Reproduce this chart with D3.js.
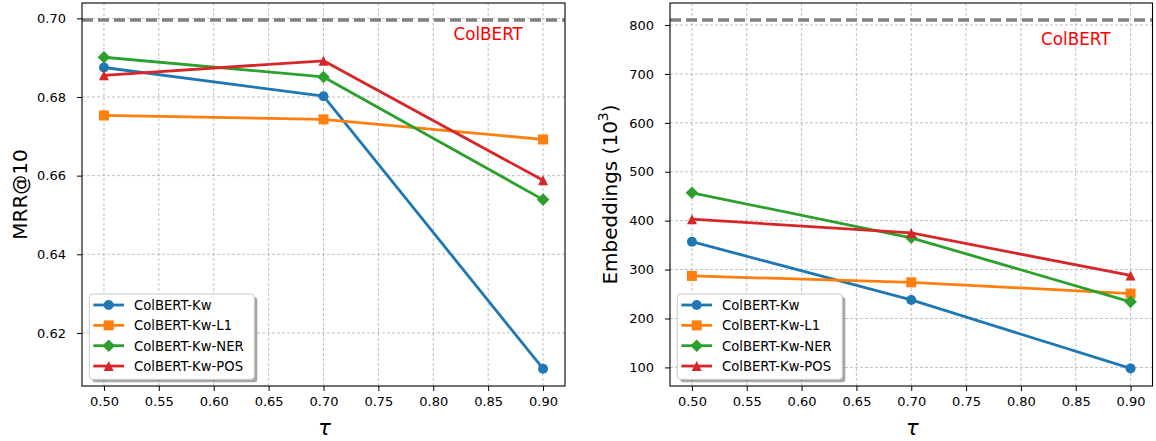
<!DOCTYPE html>
<html>
<head>
<meta charset="utf-8">
<script src="https://cdn.jsdelivr.net/npm/d3@7"></script>
<style>
  body { margin: 0; background: #fff; }
  text { font-family: "DejaVu Sans", sans-serif; }
</style>
</head>
<body>
<svg id="chart" width="1156" height="441"></svg>
<script>
/* данные */
const taus = [0.5, 0.7, 0.9];
const xTicks = [0.50, 0.55, 0.60, 0.65, 0.70, 0.75, 0.80, 0.85, 0.90];
const seriesNames = ["ColBERT-Kw", "ColBERT-Kw-L1", "ColBERT-Kw-NER", "ColBERT-Kw-POS"];
const colors = ["#1f77b4", "#ff7f0e", "#2ca02c", "#d62728"];
const markers = ["circle", "square", "diamond", "triangle"];

// MRR@10
const mrrKw  = [0.6875, 0.6802, 0.6109];
const mrrL1  = [0.6753, 0.6743, 0.6692];
const mrrNER = [0.6901, 0.6851, 0.6539];
const mrrPOS = [0.6855, 0.6892, 0.6588];
const mrrColbert = 0.6996;
const mrrTicks = [0.62, 0.64, 0.66, 0.68, 0.70];

// Embeddings (10^3)
const embKw  = [357, 238, 98];
const embL1  = [287, 274, 251];
const embNER = [457, 365, 234];
const embPOS = [403, 375, 288];
const embColbert = 810;
const embTicks = [100, 200, 300, 400, 500, 600, 700, 800];

const svg = d3.select("#chart");

function markerPath(type, k) {
    k = k || 1;
    if (type == "circle") return d3.symbol(d3.symbolCircle, Math.PI * 25 * k * k)();
    if (type == "square") { let h = 5 * k; return `M${-h},${-h}H${h}V${h}H${-h}Z`; }
    if (type == "diamond") { let d = 6.3 * k; return `M0,${-d}L${d},0L0,${d}L${-d},0Z`; }
    let h = 5 * k;
    return `M0,${-h}L${h},${h}L${-h},${h}Z`;
}

function drawPanel(opt) {
    let x = d3.scaleLinear().domain([0.48, 0.92]).range([opt.left, opt.right]);
    let y = d3.scaleLinear().domain(opt.yDomain).range([opt.bottom, opt.top]);
    let g = svg.append("g");

    // сетка
    g.selectAll(".vgrid").data(xTicks).enter().append("line")
        .attr("x1", d => x(d)).attr("x2", d => x(d))
        .attr("y1", opt.top).attr("y2", opt.bottom)
        .attr("stroke", "#b0b0b0").attr("stroke-width", 0.8)
        .attr("stroke-dasharray", "3,2");
    g.selectAll(".hgrid").data(opt.yTicks).enter().append("line")
        .attr("x1", opt.left).attr("x2", opt.right)
        .attr("y1", d => y(d)).attr("y2", d => y(d))
        .attr("stroke", "#b0b0b0").attr("stroke-width", 0.8)
        .attr("stroke-dasharray", "3,2");

    // ColBERT
    g.append("line")
        .attr("x1", opt.left).attr("x2", opt.right)
        .attr("y1", y(opt.colbert)).attr("y2", y(opt.colbert))
        .attr("stroke", "#808080").attr("stroke-width", 3.5)
        .attr("stroke-dasharray", "11,5");
    g.append("text")
        .attr("x", x(0.85)).attr("y", y(opt.labelY))
        .attr("text-anchor", "middle")
        .attr("fill", "#ff0000").attr("font-size", 16.8)
        .text("ColBERT");

    let line = d3.line().x((d, i) => x(taus[i])).y(d => y(d));
    opt.series.forEach(function(vals, s) {
        g.append("path").datum(vals)
            .attr("d", line)
            .attr("fill", "none").attr("stroke", colors[s])
            .attr("stroke-width", 2.8).attr("stroke-linejoin", "round");
        g.selectAll(".m" + s).data(vals).enter().append("path")
            .attr("d", markerPath(markers[s]))
            .attr("transform", (d, i) => `translate(${x(taus[i])},${y(d)})`)
            .attr("fill", colors[s]);
    });

    // оси
    let xAxis = g.append("g").attr("transform", `translate(0,${opt.bottom})`)
        .call(d3.axisBottom(x).tickValues(xTicks).tickFormat(d3.format(".2f")).tickSize(5).tickPadding(6));
    let yAxis = g.append("g").attr("transform", `translate(${opt.left},0)`)
        .call(d3.axisLeft(y).tickValues(opt.yTicks).tickFormat(opt.fmt).tickSize(5).tickPadding(11));
    [xAxis, yAxis].forEach(function(a) {
        a.select(".domain").remove();
        a.selectAll("text").attr("font-size", 13).attr("fill", "#000")
            .attr("font-family", "DejaVu Sans");
        a.selectAll("line").attr("stroke", "#000").attr("stroke-width", 1);
    });
    g.append("rect")
        .attr("x", opt.left).attr("y", opt.top)
        .attr("width", opt.right - opt.left).attr("height", opt.bottom - opt.top)
        .attr("fill", "none").attr("stroke", "#000").attr("stroke-width", 1.1);

    // подписи
    g.append("text")
        .attr("x", (opt.left + opt.right) / 2 + 1).attr("y", 435)
        .attr("text-anchor", "middle").attr("font-size", 21).attr("font-style", "italic")
        .text("τ");
    let yl = g.append("text")
        .attr("transform", `translate(${opt.ylabelX},${(opt.top + opt.bottom) / 2}) rotate(-90)`)
        .attr("text-anchor", "middle").attr("font-size", opt.ylabelSize);
    yl.append("tspan").text(opt.ylabel);
    if (opt.sup) {
        yl.append("tspan").attr("font-size", 14).attr("dy", -9).text(opt.sup);
        yl.append("tspan").attr("dy", 9).text(")");
    }

    // легенда
    let lx = opt.left + 7.3, ly = opt.bottom - 6.7 - 85.3;
    let leg = g.append("g").attr("transform", `translate(${lx},${ly})`);
    leg.append("rect").attr("x", 3).attr("y", 3).attr("width", 165).attr("height", 85.3)
        .attr("rx", 3).attr("fill", "#000").attr("opacity", 0.35);
    leg.append("rect").attr("width", 165).attr("height", 85.3)
        .attr("rx", 3).attr("fill", "#fff").attr("stroke", "#cccccc");
    seriesNames.forEach(function(name, s) {
        let cy = 11 + s * 20.35;
        leg.append("line").attr("x1", 4).attr("x2", 34.7).attr("y1", cy).attr("y2", cy)
            .attr("stroke", colors[s]).attr("stroke-width", 2.8);
        leg.append("path").attr("d", markerPath(markers[s]))
            .attr("transform", `translate(19.4,${cy})`).attr("fill", colors[s]);
        leg.append("text").attr("x", 44.7).attr("y", cy + 4.8)
            .attr("font-size", 13.2).text(name);
    });
}

drawPanel({
    left: 82, right: 565, top: 3, bottom: 386,
    yDomain: [0.6065, 0.7039], yTicks: mrrTicks, fmt: d3.format(".2f"),
    series: [mrrKw, mrrL1, mrrNER, mrrPOS],
    colbert: mrrColbert, labelY: 0.6945,
    ylabel: "MRR@10", ylabelX: 26.5, ylabelSize: 20
});
drawPanel({
    left: 670, right: 1152.5, top: 3, bottom: 386,
    yDomain: [62, 845], yTicks: embTicks, fmt: d3.format("d"),
    series: [embKw, embL1, embNER, embPOS],
    colbert: embColbert, labelY: 760,
    ylabel: "Embeddings (10", sup: "3", ylabelX: 617, ylabelSize: 20
});
</script>
</body>
</html>
